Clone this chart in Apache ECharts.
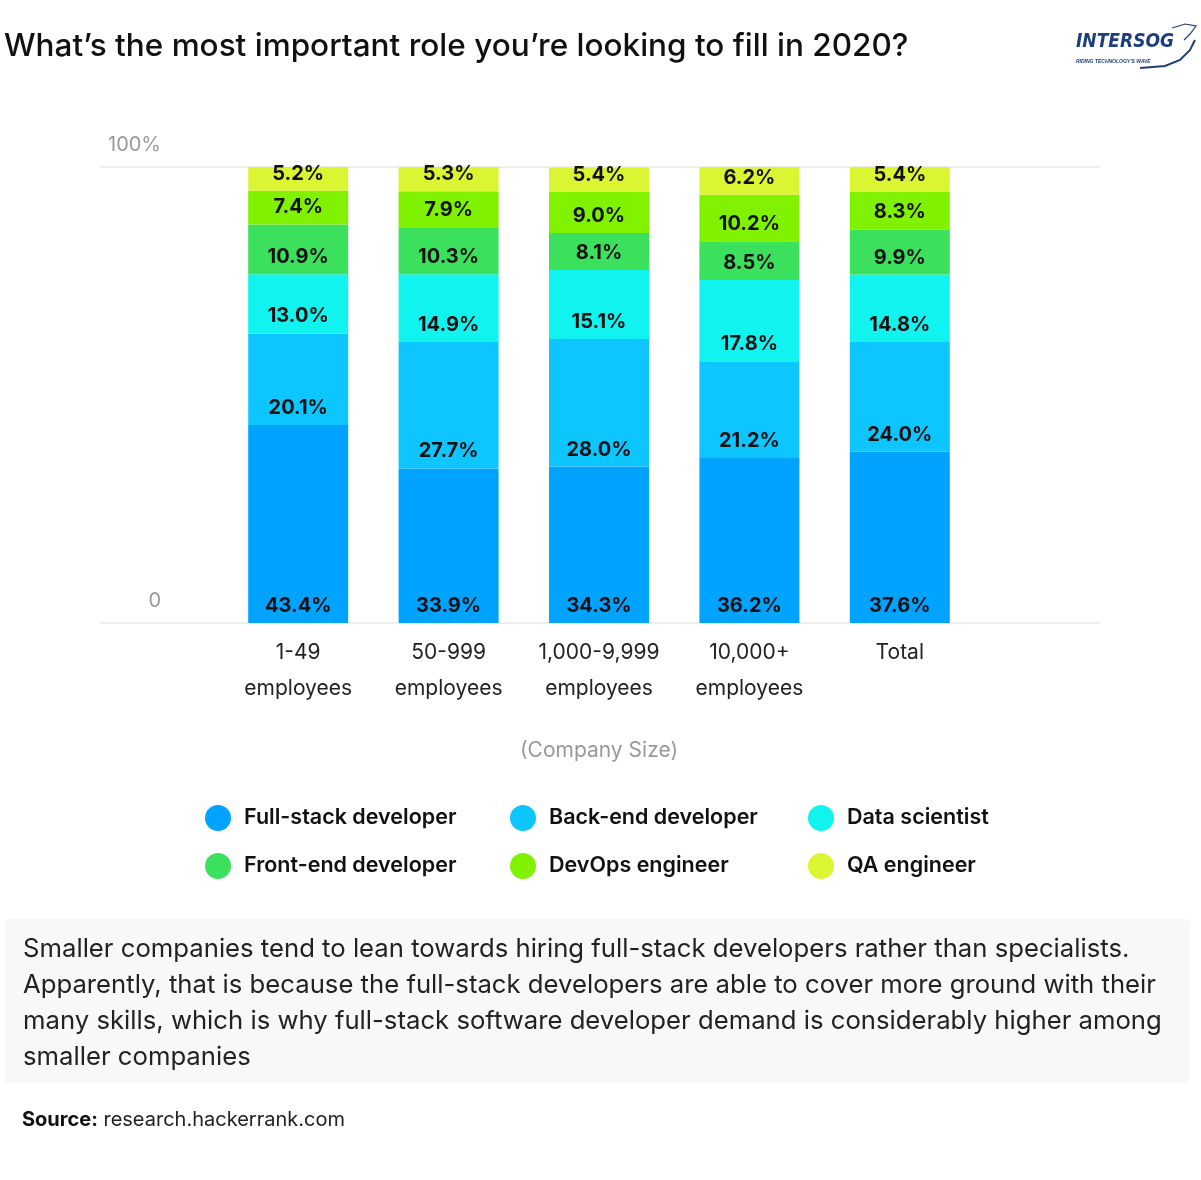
<!DOCTYPE html>
<html><head><meta charset="utf-8">
<script src="https://cdn.jsdelivr.net/npm/echarts@6/dist/echarts.min.js"></script>
<style>html,body{margin:0;padding:0;background:#fff}#c{width:1201px;height:1180px}</style>
</head><body><div id="c"></div>
<script>
const categories = ['1-49\nemployees', '50-999\nemployees', '1,000-9,999\nemployees', '10,000+\nemployees', 'Total'];
const seriesNames = ['Full-stack developer', 'Back-end developer', 'Data scientist', 'Front-end developer', 'DevOps engineer', 'QA engineer'];
const fullStack = [43.4, 33.9, 34.3, 36.2, 37.6];
const backEnd   = [20.1, 27.7, 28.0, 21.2, 24.0];
const dataSci   = [13.0, 14.9, 15.1, 17.8, 14.8];
const frontEnd  = [10.9, 10.3, 8.1, 8.5, 9.9];
const devOps    = [7.4, 7.9, 9.0, 10.2, 8.3];
const qa        = [5.2, 5.3, 5.4, 6.2, 5.4];
const yTicks = [0, 100];
const colors = ['#00A3FF', '#0DC6FF', '#10F3EE', '#3BE15C', '#80F200', '#DCF532'];
const FONT = 'Inter';

const values = [fullStack, backEnd, dataSci, frontEnd, devOps, qa];
const chart = echarts.init(document.getElementById('c'));
const series = values.map((v, i) => ({
  name: seriesNames[i], type: 'bar', stack: 'all', xAxisIndex: 0, yAxisIndex: 0,
  barWidth: 100, data: v,
  itemStyle: { color: colors[i] },
  label: { show: true, position: 'insideBottom', distance: 7,
    formatter: p => p.value.toFixed(1) + '%',
    color: '#111', fontFamily: FONT, fontWeight: 700, fontSize: 20 },
  emphasis: { disabled: true }
}));
const legendCol = (left, names) => ({
  orient: 'vertical', left: left, top: 800, itemWidth: 26, itemHeight: 26, itemGap: 22,
  icon: 'circle', data: names, selectedMode: false,
  textStyle: { fontFamily: FONT, fontSize: 21.5, fontWeight: 600, color: '#111', padding: [0, 0, 0, 8] }
});
chart.setOption({
  animation: false,
  color: colors,
  title: { text: 'What\u2019s the most important role you\u2019re looking to fill in 2020?', left: -1, top: 26,
    textStyle: { fontFamily: FONT, fontSize: 31.5, fontWeight: 500, color: '#111' } },
  legend: [
    legendCol(200, [seriesNames[0], seriesNames[3]]),
    legendCol(505, [seriesNames[1], seriesNames[4]]),
    legendCol(803, [seriesNames[2], seriesNames[5]])
  ],
  grid: [
    { left: 223, width: 752, top: 167, bottom: 557 },
    { left: 100, width: 1000, top: 167, bottom: 557 }
  ],
  xAxis: [
    { type: 'category', gridIndex: 0, data: categories,
      axisLine: { show: false }, axisTick: { show: false },
      axisLabel: { interval: 0, margin: 12, lineHeight: 36, fontFamily: FONT, fontSize: 21, color: '#222' },
      name: '(Company Size)', nameLocation: 'middle', nameGap: 117,
      nameTextStyle: { fontFamily: FONT, fontSize: 21, color: '#999' } },
    { type: 'value', gridIndex: 1, show: false, min: 0, max: 1 }
  ],
  yAxis: [
    { type: 'value', gridIndex: 0, min: 0, max: 100, show: false },
    { type: 'value', gridIndex: 1, min: yTicks[0], max: yTicks[1], interval: 100,
      axisLine: { show: false }, axisTick: { show: false },
      splitLine: { lineStyle: { color: '#eeeeee', width: 2 } },
      axisLabel: { inside: true, margin: 61, align: 'right', verticalAlign: 'bottom',
        padding: [0, 0, 12, 0], fontFamily: FONT, fontSize: 20, color: '#999',
        formatter: v => v === 100 ? '100%' : '0' } }
  ],
  series: series,
  graphic: [
    { type: 'rect', left: 5, top: 919, shape: { width: 1185, height: 164, r: 4 }, style: { fill: '#f8f8f8' }, silent: true },
    { type: 'text', left: 23, top: 931, style: {
      text: 'Smaller companies tend to lean towards hiring full-stack developers rather than specialists.\nApparently, that is because the full-stack developers are able to cover more ground with their\nmany skills, which is why full-stack software developer demand is considerably higher among\nsmaller companies',
      font: '400 25.7px ' + FONT, lineHeight: 36, fill: '#222' } },
    { type: 'text', left: 22, top: 1110, style: {
      text: '{b|Source:} research.hackerrank.com',
      rich: { b: { fontFamily: FONT, fontWeight: 700, fontSize: 20, fill: '#111' } },
      font: '400 20px ' + FONT, fill: '#222' } },
    { type: 'text', left: 1076, top: 33, style: { text: 'INTERSOG', font: 'italic 700 19px "DejaVu Sans Condensed", "DejaVu Sans", sans-serif', fill: '#1d3e7e' } },
    { type: 'text', left: 1076, top: 59, style: { text: 'RIDING TECHNOLOGY\u2019S WAVE', font: 'italic 700 5px sans-serif', fill: '#1d3e7e' } },
    { type: 'polyline', shape: { points: [[1140, 68], [1165, 66], [1180, 60], [1190, 50], [1195, 40]] }, style: { stroke: '#1d3e7e', lineWidth: 2, fill: null } },
    { type: 'polyline', shape: { points: [[1172, 28], [1185, 24], [1196, 26], [1190, 34], [1184, 40]] }, style: { stroke: '#1d3e7e', lineWidth: 1.2, fill: null } }
  ]
});
</script></body></html>
